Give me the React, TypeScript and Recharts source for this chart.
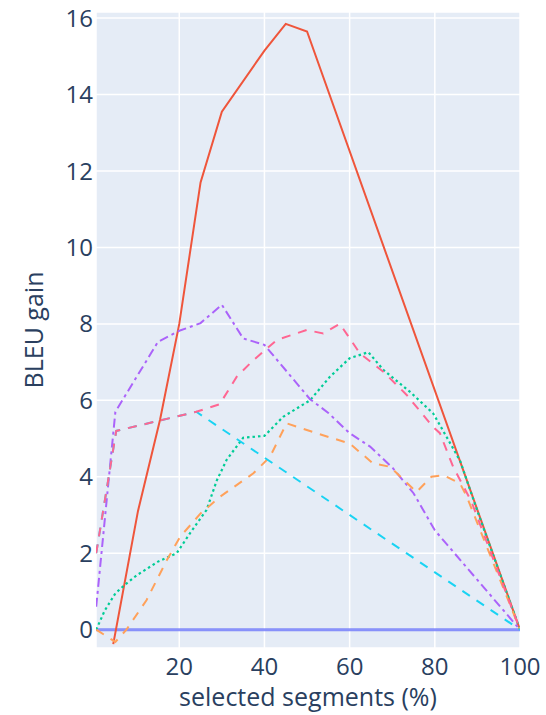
import React from "react";
import { LineChart, Line, XAxis, YAxis, CartesianGrid, Label } from "recharts";

const xTicks = [20, 40, 60, 80, 100];
const yTicks = [0, 2, 4, 6, 8, 10, 12, 14, 16];

const blueX = [0.5, 100];
const blueY = [0, 0];

const redX = [4.5, 10.3, 15.5, 20, 25, 30, 40, 45, 50, 100];
const redY = [-0.38, 3.1, 5.5, 8.0, 11.7, 13.55, 15.15, 15.85, 15.65, 0];

const greenX = [0.5, 2.5, 5, 7.5, 10, 15, 19.4, 22.5, 26.4, 28.8, 31.1, 35, 40, 44.4, 50.7, 55.4, 60, 64.4, 67.9, 71.8, 74.2, 79.6, 83.5, 86, 90, 95, 100];
const greenY = [0, 0.5, 0.95, 1.2, 1.42, 1.78, 2.0, 2.52, 3.13, 3.9, 4.44, 5.02, 5.07, 5.57, 6.0, 6.62, 7.1, 7.26, 6.8, 6.44, 6.22, 5.66, 4.9, 4.4, 3.1, 1.55, 0];

const purpleX = [0.5, 5, 15, 20, 25, 30, 35, 40, 50.7, 55, 60, 64.8, 70.2, 75, 80, 90, 100];
const purpleY = [0.6, 5.7, 7.53, 7.82, 8.02, 8.5, 7.62, 7.45, 6.03, 5.67, 5.14, 4.79, 4.22, 3.57, 2.6, 1.3, 0];

const orangeX = [0.5, 5, 7.6, 12.3, 17, 20.2, 25, 29.6, 37.4, 41.3, 45.2, 52.2, 60, 65.5, 69.5, 75.7, 79.2, 82, 85.9, 87.5, 100];
const orangeY = [0, -0.32, 0, 0.77, 1.8, 2.43, 3.04, 3.48, 4.09, 4.52, 5.4, 5.14, 4.87, 4.35, 4.26, 3.6, 4.0, 4.04, 3.83, 3.48, 0];

const cyanX = [0.5, 5.2, 24, 100];
const cyanY = [2.0, 5.2, 5.7, 0];

const pinkX = [0.5, 5.2, 24, 29.5, 33.5, 37.4, 42.9, 49.9, 53.8, 57.7, 62.4, 67.9, 73.4, 79.6, 81.2, 84.3, 88.6, 100];
const pinkY = [2.0, 5.2, 5.7, 5.9, 6.62, 7.05, 7.58, 7.84, 7.75, 8.0, 7.23, 6.75, 6.14, 5.3, 5.14, 4.26, 3.35, 0];

const makeSeries = (xs: number[], ys: number[]) => xs.map((x, i) => ({ x, y: ys[i] }));

const FONT = "'Open Sans', 'Noto Sans', sans-serif";
const TEXT = "#2a3f5f";

const series = [
  { name: "blue", data: makeSeries(blueX, blueY), color: "#636efa", dash: undefined, width: 3, opacity: 0.75 },
  { name: "red", data: makeSeries(redX, redY), color: "#EF553B", dash: undefined, width: 2, opacity: 1 },
  { name: "green", data: makeSeries(greenX, greenY), color: "#00cc96", dash: "2.5 3", width: 2.2, opacity: 1 },
  { name: "purple", data: makeSeries(purpleX, purpleY), color: "#ab63fa", dash: "9 4 3 4", width: 2, opacity: 1 },
  { name: "orange", data: makeSeries(orangeX, orangeY), color: "#FFA15A", dash: "9 8", width: 2, opacity: 1 },
  { name: "cyan", data: makeSeries(cyanX, cyanY), color: "#19d3f3", dash: "9 8", width: 2, opacity: 1 },
  { name: "pink", data: makeSeries(pinkX, pinkY), color: "#FF6692", dash: "9 8", width: 2, opacity: 1 },
];

export default function App() {
  return (
    <div style={{ position: "absolute", left: 0, top: 0, width: 546, height: 715, background: "#fff" }}>
      <LineChart width={546} height={715} margin={{ top: 12, right: 26, bottom: 0, left: 0 }}>
        <CartesianGrid fill="#E5ECF6" stroke="#ffffff" strokeWidth={1.5} />
        <XAxis
          type="number"
          dataKey="x"
          domain={[0.45, 100]}
          ticks={xTicks}
          allowDataOverflow
          axisLine={false}
          tickLine={false}
          tickSize={0}
          tickMargin={10}
          height={67}
          tick={{ fill: TEXT, fontSize: 24, fontFamily: FONT }}
        >
          <Label
            content={(props: any) => {
              const vb = props.viewBox || {};
              return (
                <text
                  x={vb.x + vb.width / 2}
                  y={vb.y + vb.height - 9}
                  textAnchor="middle"
                  fill={TEXT}
                  fontSize={25}
                  fontFamily={FONT}
                >
                  selected segments (%)
                </text>
              );
            }}
          />
        </XAxis>
        <YAxis
          type="number"
          dataKey="y"
          domain={[-0.48, 16.16]}
          ticks={yTicks}
          allowDataOverflow
          axisLine={false}
          tickLine={false}
          tickSize={0}
          tickMargin={3}
          width={96}
          tick={{ fill: TEXT, fontSize: 24, fontFamily: FONT }}
        >
          <Label
            content={(props: any) => {
              const vb = props.viewBox || {};
              const cx = vb.x + 43;
              const cy = vb.y + vb.height / 2;
              return (
                <text
                  x={cx}
                  y={cy}
                  transform={`rotate(-90, ${cx}, ${cy})`}
                  textAnchor="middle"
                  fill={TEXT}
                  fontSize={25}
                  fontFamily={FONT}
                >
                  BLEU gain
                </text>
              );
            }}
          />
        </YAxis>
        {series.map((s) => (
          <Line
            key={s.name}
            data={s.data}
            dataKey="y"
            type="linear"
            stroke={s.color}
            strokeWidth={s.width}
            strokeOpacity={s.opacity}
            strokeDasharray={s.dash}
            dot={false}
            activeDot={false}
            isAnimationActive={false}
          />
        ))}
      </LineChart>
    </div>
  );
}
